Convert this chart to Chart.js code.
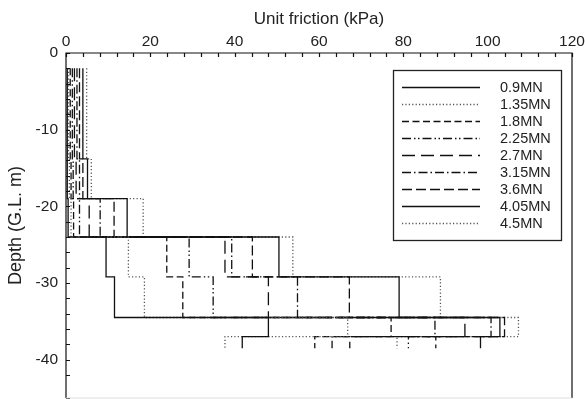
<!DOCTYPE html>
<html lang="en">
<head>
  <meta charset="UTF-8" />
  <title>Unit friction profile</title>
  <script src="https://cdn.jsdelivr.net/npm/chart.js"></script>
  <style>
    body { margin: 0; background: #fff; overflow: hidden; }
    canvas { display: block; }
  </style>
</head>
<body>
  <canvas id="friction" width="585" height="399"></canvas>

  <script>
    // depth boundaries of the gauge sections (m below G.L.)
    const depthLevels = [2, 13.8, 19, 24, 29.2, 34.5, 37, 38.5];

    // unit friction per section (kPa), one array per load step
    const loadLabels = ['0.9MN', '1.35MN', '1.8MN', '2.25MN', '2.7MN', '3.15MN', '3.6MN', '4.05MN', '4.5MN'];
    const f090 = [0.3, 0.3, 0.5, 9.5, 11.5, 48.0, 41.8];
    const f135 = [0.6, 0.8, 1.2, 14.8, 18.6, 66.8, 37.7];
    const f180 = [1.0, 1.2, 1.8, 23.9, 27.7, 77.1, 59.0];
    const f225 = [1.5, 1.7, 3.2, 29.2, 34.9, 87.5, 63.1];
    const f270 = [2.0, 2.4, 5.5, 37.7, 48.0, 94.6, 67.3];
    const f315 = [2.6, 3.2, 8.1, 39.3, 54.9, 100.8, 81.2];
    const f360 = [3.2, 4.0, 11.4, 44.2, 67.2, 104.0, 87.7];
    const f405 = [4.0, 5.1, 14.5, 50.5, 79.0, 102.9, 98.3];
    const f450 = [4.9, 6.0, 18.3, 53.8, 88.8, 107.3, 78.5];

    const xTickLabels = [0, 20, 40, 60, 80, 100, 120];
    const yTickLabels = [0, -10, -20, -30, -40];

    const series = [f090, f135, f180, f225, f270, f315, f360, f405, f450];
    const dashes = [
      [], [1.2, 2.2], [7, 3.5], [9, 3, 1.5, 2.5, 1.5, 3], [13, 6],
      [9, 3, 1.5, 3], [10, 4], [], [1.2, 2.2]
    ];
    const colors = ['#111', '#555', '#111', '#111', '#111', '#111', '#111', '#111', '#555'];

    // turn section values into a step profile
    function stepProfile(vals) {
      const pts = [];
      vals.forEach((v, i) => {
        pts.push({ x: v, y: -depthLevels[i] });
        pts.push({ x: v, y: -depthLevels[i + 1] });
      });
      return pts;
    }

    // box frame with inward ticks, plus the legend panel
    const frame = {
      id: 'frame',
      afterDraw(chart) {
        const { ctx, scales: { x, y } } = chart;
        const l = x.getPixelForValue(x.min), r = x.getPixelForValue(x.max);
        const t = y.getPixelForValue(y.max), b = y.getPixelForValue(y.min);
        ctx.save();
        ctx.strokeStyle = '#111';
        ctx.lineWidth = 1.2;
        ctx.beginPath();
        x.ticks.forEach(tk => {
          const px = Math.round(x.getPixelForValue(tk.value)) + 0.5;
          ctx.moveTo(px, t); ctx.lineTo(px, t + 4);
        });
        y.ticks.forEach(tk => {
          const py = Math.round(y.getPixelForValue(tk.value)) + 0.5;
          ctx.moveTo(l, py); ctx.lineTo(l + 4, py);
        });
        ctx.stroke();

        ctx.beginPath();
        ctx.moveTo(l, b);
        ctx.lineTo(l, t);
        ctx.lineTo(r, t);
        ctx.lineTo(r, b);
        ctx.stroke();
        ctx.strokeStyle = '#ddd';
        ctx.beginPath();
        ctx.moveTo(l, b);
        ctx.lineTo(r, b);
        ctx.stroke();

        // legend box
        const bx = 393, by = 70, bw = 168, bh = 170;
        ctx.fillStyle = '#fff';
        ctx.fillRect(bx, by, bw, bh);
        ctx.strokeStyle = '#222';
        ctx.lineWidth = 1.3;
        ctx.strokeRect(bx + 0.5, by + 0.5, bw, bh);
        ctx.font = '14.5px "Liberation Sans", Arial, sans-serif';
        ctx.textBaseline = 'middle';
        ctx.fillStyle = '#222';
        chart.data.datasets.forEach((ds, i) => {
          const ly = by + 17.5 + i * 17;
          ctx.strokeStyle = ds.borderColor;
          ctx.lineWidth = 1.3;
          ctx.setLineDash(ds.borderDash);
          ctx.beginPath();
          ctx.moveTo(402, ly); ctx.lineTo(480, ly);
          ctx.stroke();
          ctx.setLineDash([]);
          ctx.fillText(ds.label, 500, ly);
        });
        ctx.restore();
      }
    };

    Chart.defaults.font.family = '"Liberation Sans", Arial, sans-serif';
    Chart.defaults.color = '#222';

    new Chart(document.getElementById('friction'), {
      type: 'scatter',
      data: {
        datasets: series.map((vals, i) => ({
          label: loadLabels[i],
          data: stepProfile(vals),
          showLine: true,
          borderColor: colors[i],
          borderWidth: 1.3,
          borderDash: dashes[i],
          pointRadius: 0,
          tension: 0
        }))
      },
      options: {
        responsive: false,
        animation: false,
        layout: { padding: { top: 0, left: 0, right: 13, bottom: 1 } },
        plugins: { legend: { display: false }, tooltip: { enabled: false } },
        scales: {
          x: {
            type: 'linear',
            position: 'top',
            min: 0,
            max: 120,
            afterFit: s => { s.height = 53; s.paddingLeft = 0; s.paddingRight = 0; },
            border: { display: false },
            grid: { display: false, drawTicks: false },
            ticks: {
              stepSize: 4,
              autoSkip: false,
              maxRotation: 0,
              padding: 2,
              font: { size: 15.5 },
              callback: v => xTickLabels.includes(v) ? String(v) : ''
            },
            title: {
              display: true,
              text: 'Unit friction (kPa)',
              font: { size: 17 },
              padding: { top: 9, bottom: 2 }
            }
          },
          y: {
            type: 'linear',
            min: -45,
            max: 0,
            afterFit: s => { s.width = 66; s.paddingTop = 0; s.paddingBottom = 0; },
            border: { display: false },
            grid: { display: false, drawTicks: false },
            ticks: {
              stepSize: 2,
              autoSkip: false,
              padding: 8,
              font: { size: 15.5 },
              callback: v => yTickLabels.includes(v) ? String(v) : ''
            },
            title: {
              display: true,
              text: 'Depth (G.L. m)',
              font: { size: 18 },
              padding: { top: 5, bottom: 4 }
            }
          }
        }
      },
      plugins: [frame]
    });
  </script>
</body>
</html>
